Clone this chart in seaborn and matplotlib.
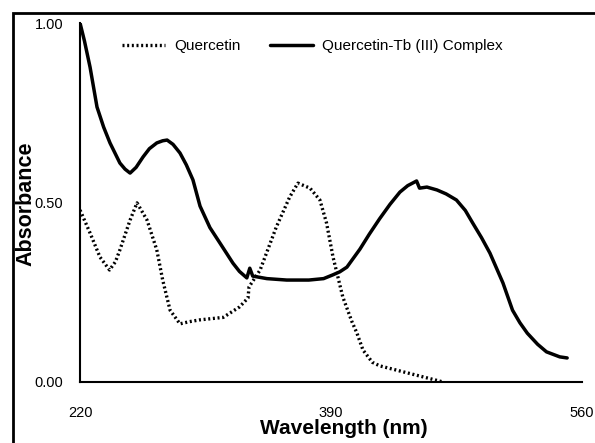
import numpy as np
import pandas as pd
import seaborn as sb
import matplotlib
matplotlib.use('Agg')
import matplotlib.pyplot as plt
from matplotlib.patches import Rectangle

sb.set_style('white')
plt.rcParams['font.family'] = ['Liberation Sans', 'DejaVu Sans']
for k in ['text.color', 'axes.labelcolor', 'xtick.color', 'ytick.color']:
    plt.rcParams[k] = 'black'

# Quercetin (dotted)
q_wl = [220, 226.8, 233.5, 240, 244, 247, 253.9, 258.6, 265.4, 272, 276, 281, 287.7, 294, 301,
        317, 328, 333.8, 334.5, 342, 353, 362, 367.6, 375.8, 382.5, 387, 391.4, 398, 404, 407.6,
        411.7, 418, 423, 445, 466]
q_abs = [0.479, 0.415, 0.348, 0.312, 0.335, 0.368, 0.451, 0.499, 0.451, 0.368, 0.284, 0.200, 0.162,
         0.168, 0.173, 0.180, 0.209, 0.234, 0.265, 0.312, 0.432, 0.515, 0.554, 0.540, 0.507, 0.443,
         0.348, 0.237, 0.170, 0.136, 0.089, 0.055, 0.045, 0.022, 0.0]

# Quercetin-Tb (III) complex (solid)
c_wl = [220, 223, 226.8, 231.5, 236, 240.3, 247, 250.5, 253.9, 258, 262.7, 267, 272, 276, 279,
        283, 287.7, 292, 296.5, 301.3, 308, 314.8, 323.6, 328, 333, 335, 337, 346.6, 360, 375,
        385, 391, 396, 400.8, 409.6, 416, 423, 430, 436.7, 442, 448, 450, 455, 461.8, 468, 475,
        481, 486, 492, 497.7, 506.5, 513, 518, 523, 530, 536, 545, 550]
c_abs = [1.0, 0.95, 0.877, 0.766, 0.71, 0.666, 0.61, 0.593, 0.582, 0.598, 0.627, 0.65, 0.666,
         0.672, 0.674, 0.662, 0.638, 0.605, 0.563, 0.49, 0.43, 0.387, 0.331, 0.308, 0.29, 0.317,
         0.295, 0.288, 0.284, 0.284, 0.288, 0.298, 0.307, 0.32, 0.37, 0.412, 0.455, 0.495, 0.529,
         0.547, 0.56, 0.54, 0.543, 0.535, 0.524, 0.507, 0.478, 0.443, 0.402, 0.359, 0.276, 0.2,
         0.165, 0.136, 0.105, 0.084, 0.07, 0.067]

x_ticks = [220, 390, 560]
y_ticks = [0.0, 0.5, 1.0]
y_ticklabels = ['0.00', '0.50', '1.00']

df_q = pd.DataFrame({'wl': q_wl, 'abs': q_abs})
df_c = pd.DataFrame({'wl': c_wl, 'abs': c_abs})

fig = plt.figure(figsize=(5.95, 4.43), dpi=100)
ax = fig.add_axes([0.1345, 0.1377, 0.8435, 0.8103])

sb.lineplot(data=df_q, x='wl', y='abs', ax=ax, color='black', lw=2.4,
            linestyle=(0, (0.6, 0.8)), label='Quercetin', sort=False)
sb.lineplot(data=df_c, x='wl', y='abs', ax=ax, color='black', lw=2.5,
            label='Quercetin-Tb (III) Complex', sort=False)

ax.set_xlim(220, 560)
ax.set_ylim(0, 1)
ax.set_xticks(x_ticks)
ax.set_yticks(y_ticks)
ax.set_yticklabels(y_ticklabels)
ax.tick_params(axis='x', direction='out', length=4, width=1.2, pad=13, labelsize=10.5)
ax.tick_params(axis='y', direction='out', length=4, width=1.2, pad=8, labelsize=10.5)
for s in ['top', 'right']:
    ax.spines[s].set_visible(False)
for s in ['left', 'bottom']:
    ax.spines[s].set_color('black')
    ax.spines[s].set_linewidth(1.5)

ax.set_xlabel('Wavelength (nm)', fontsize=15, fontweight='bold')
ax.xaxis.set_label_coords(0.526, -0.104)
ax.set_ylabel('Absorbance', fontsize=15.5, fontweight='bold')
ax.yaxis.set_label_coords(-0.086, 0.497)

ax.legend(loc='center', bbox_to_anchor=(0.463, 0.936), ncol=2, frameon=False,
          handlelength=2.8, handletextpad=0.6, columnspacing=1.9,
          prop={'size': 11})

# outer frame around the whole picture
fig.patches.append(Rectangle((13 / 595, -0.05), 1.2, 1.0 - 13 / 443 + 0.05,
                             transform=fig.transFigure, fill=False, lw=2, ec='black'))

plt.savefig('out.png', dpi=100)
